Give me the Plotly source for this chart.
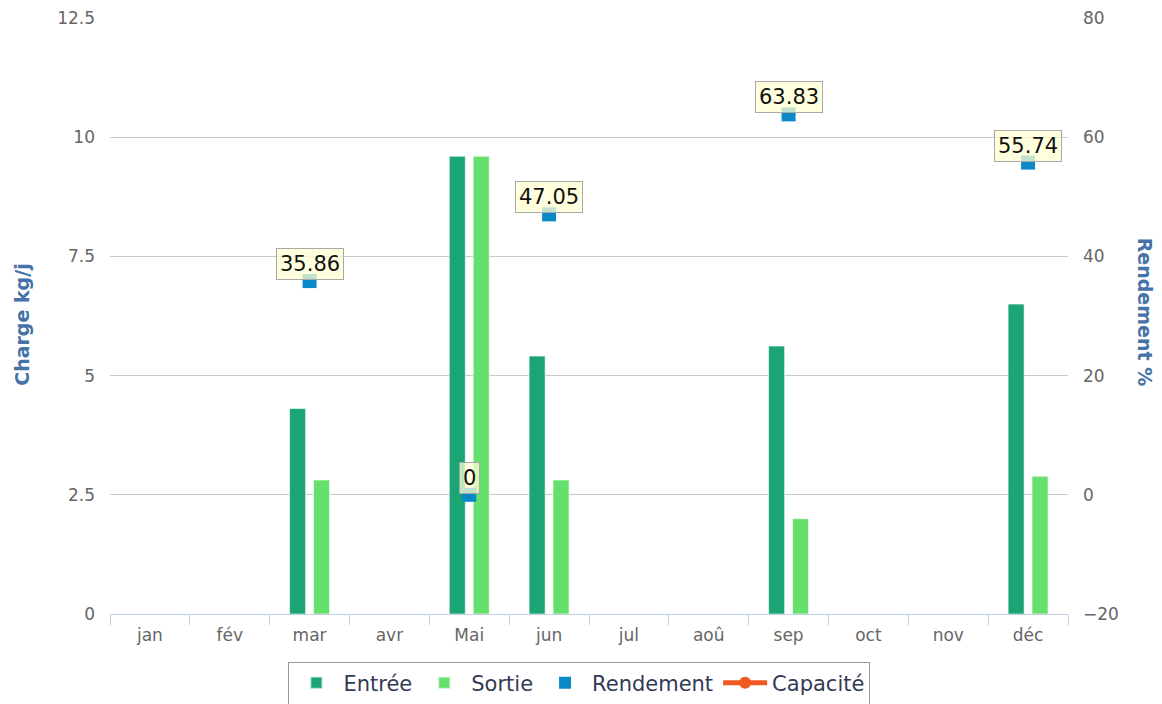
import plotly.graph_objects as go

# Monthly data
months = ["jan", "fév", "mar", "avr", "Mai", "jun", "jul", "aoû", "sep", "oct", "nov", "déc"]
entree = [None, None, 4.31, None, 9.6, 5.41, None, None, 5.62, None, None, 6.5]
sortie = [None, None, 2.81, None, 9.6, 2.81, None, None, 2.0, None, None, 2.89]
rendement = [None, None, 35.86, None, 0, 47.05, None, None, 63.83, None, None, 55.74]
capacite = [None] * 12

left_ticks = [0, 2.5, 5, 7.5, 10, 12.5]
right_ticks = [-20, 0, 20, 40, 60, 80]

FONT = "DejaVu Sans"
TITLE_COLOR = "#4572a7"
TICK_COLOR = "#666666"

fig = go.Figure()

fig.add_trace(go.Bar(
    x=months, y=entree, name="Entrée",
    marker=dict(color="#1ba574", line=dict(color="rgba(255,255,255,0.6)", width=1)),
))
fig.add_trace(go.Bar(
    x=months, y=sortie, name="Sortie",
    marker=dict(color="#66e06c", line=dict(color="rgba(255,255,255,0.6)", width=1)),
))
fig.add_trace(go.Scatter(
    x=months, y=rendement, name="Rendement", yaxis="y2", mode="markers",
    marker=dict(symbol="square", size=14, color="#0a88c8"),
))
fig.add_trace(go.Scatter(
    x=months, y=capacite, name="Capacité", yaxis="y2", mode="lines+markers",
    line=dict(color="#f05a22", width=2),
    marker=dict(symbol="circle", size=8, color="#f05a22"),
))

# Value labels above the yield markers
for m, v in zip(months, rendement):
    if v is None:
        continue
    txt = f"{v:.2f}" if v != 0 else "0"
    fig.add_annotation(
        x=m, y=v, xref="x", yref="y2", text=txt, showarrow=False,
        yanchor="middle", yshift=17,
        font=dict(family=FONT, size=21, color="#111111"),
        bgcolor="rgba(255,255,210,0.75)", bordercolor="#a8a8a8",
        borderwidth=1, borderpad=3,
    )

# Axis titles (right one reads top-to-bottom)
fig.add_annotation(
    x=-0.092, y=0.485, xref="paper", yref="paper", text="<b>Charge kg/j</b>",
    textangle=-90, showarrow=False, xanchor="center", yanchor="middle",
    font=dict(family=FONT, size=19, color=TITLE_COLOR),
)
fig.add_annotation(
    x=1.0805, y=0.507, xref="paper", yref="paper", text="<b>Rendement %</b>",
    textangle=90, showarrow=False, xanchor="center", yanchor="middle",
    font=dict(family=FONT, size=19, color=TITLE_COLOR),
)

fig.update_layout(
    width=1162, height=704,
    margin=dict(l=110, r=94, t=18, b=90, autoexpand=False),
    paper_bgcolor="white", plot_bgcolor="white",
    barmode="group", bargap=0.4, bargroupgap=0.33,
    font=dict(family=FONT, color=TICK_COLOR),
    showlegend=True,
    legend=dict(
        orientation="h", x=0.49, xanchor="center", y=-0.08, yanchor="top",
        bordercolor="#999999", borderwidth=1, bgcolor="white",
        font=dict(family=FONT, size=21, color="#333a55"),
        itemsizing="constant", itemwidth=44,
    ),
    xaxis=dict(
        type="category", categoryorder="array", categoryarray=months,
        range=[-0.5, len(months) - 0.5],
        showgrid=False, showline=True, linecolor="#c0d0e0", linewidth=1,
        ticks="outside", tickson="boundaries", ticklen=10, tickcolor="#c0d0e0",
        ticklabelstandoff=6,
        tickfont=dict(family=FONT, size=17, color=TICK_COLOR),
        zeroline=False, automargin=False,
    ),
    yaxis=dict(
        range=[0, 12.5], tickvals=left_ticks,
        ticktext=[f"{t:g}" for t in left_ticks],
        showgrid=True, gridcolor="#c8c8c8", gridwidth=1,
        zeroline=False, showline=False, ticks="", ticklabelstandoff=14,
        tickfont=dict(family=FONT, size=17, color=TICK_COLOR),
        automargin=False,
    ),
    yaxis2=dict(
        range=[-20, 80], tickvals=right_ticks, overlaying="y", side="right",
        showgrid=False, zeroline=False, showline=False, ticks="",
        ticklabelstandoff=14,
        tickfont=dict(family=FONT, size=17, color=TICK_COLOR),
        automargin=False,
    ),
)

fig.write_html("out.html")
